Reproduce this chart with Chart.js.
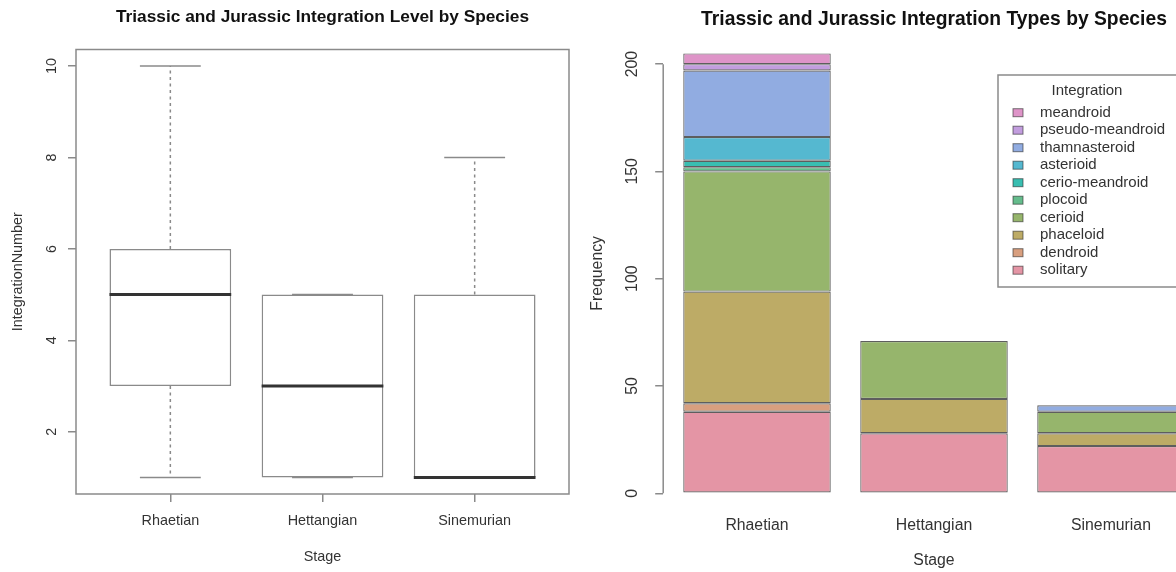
<!DOCTYPE html>
<html>
<head>
<meta charset="utf-8">
<title>Triassic and Jurassic Integration</title>
<script src="https://cdn.jsdelivr.net/npm/chart.js@4.4.1/dist/chart.umd.min.js"></script>
<style>
  html, body { margin: 0; padding: 0; background: #fff; overflow: hidden; width: 1176px; height: 572px; }
  #levelChart { position: absolute; left: 0; top: 0; }
  #typeChart { position: absolute; left: 588px; top: 0; }
</style>
</head>
<body>
<canvas id="levelChart" width="588" height="572"></canvas>
<canvas id="typeChart" width="620" height="572"></canvas>
<script>
// Stages (both charts)
const stages = ['Rhaetian', 'Hettangian', 'Sinemurian'];

// Box plot: integration number per stage
const boxMin = [1, 1, 1];
const boxQ1 = [3, 1, 1];
const boxMedian = [5, 3, 1];
const boxQ3 = [6, 5, 5];
const boxMax = [10, 5, 8];
const levelTicks = [2, 4, 6, 8, 10];

// Stacked bars: frequency of each integration type per stage
const solitary = [38, 28, 22];
const dendroid = [4, 0, 0];
const phaceloid = [52, 16, 6];
const cerioid = [56, 27, 10];
const plocoid = [2, 0, 0];
const cerioMeandroid = [3, 0, 0];
const asterioid = [11, 0, 0];
const thamnasteroid = [31, 0, 3];
const pseudoMeandroid = [3, 0, 0];
const meandroid = [5, 0, 0];
const freqTicks = [0, 50, 100, 150, 200];

const typeNames = ['solitary', 'dendroid', 'phaceloid', 'cerioid', 'plocoid',
    'cerio-meandroid', 'asterioid', 'thamnasteroid', 'pseudo-meandroid', 'meandroid'];
const typeCounts = [solitary, dendroid, phaceloid, cerioid, plocoid,
    cerioMeandroid, asterioid, thamnasteroid, pseudoMeandroid, meandroid];
const typeColors = ['#E495A5', '#D89F7F', '#BDAB66', '#96B56C', '#65BC8C',
    '#39BEB1', '#55B8D0', '#91ACE1', '#C29DDE', '#DE94C8'];

const FONT = '"Liberation Sans", Arial, Helvetica, sans-serif';
Chart.defaults.font.family = FONT;
Chart.defaults.color = '#333';
Chart.defaults.animation = false;

function line(ctx, x1, y1, x2, y2) {
    ctx.beginPath();
    ctx.moveTo(x1, y1);
    ctx.lineTo(x2, y2);
    ctx.stroke();
}

// Title centred over the plot region, like R's main=
const titlePlugin = {
    id: 'rTitle',
    afterDraw(chart, args, opts) {
        const { ctx, chartArea } = chart;
        ctx.save();
        ctx.font = `bold ${opts.size}px ${FONT}`;
        ctx.fillStyle = '#111';
        ctx.textAlign = 'center';
        ctx.textBaseline = 'middle';
        ctx.fillText(opts.text, (chartArea.left + chartArea.right) / 2, opts.y);
        ctx.restore();
    }
};

// Whiskers, staples, medians and the frame of the box plot
const boxPlugin = {
    id: 'boxParts',
    afterDatasetsDraw(chart) {
        const { ctx, chartArea: a, scales: { x, y } } = chart;
        const unit = x.getPixelForValue(2) - x.getPixelForValue(1);
        ctx.save();
        stages.forEach((s, i) => {
            const cx = x.getPixelForValue(i + 1);
            const yMin = y.getPixelForValue(boxMin[i]);
            const yMax = y.getPixelForValue(boxMax[i]);
            ctx.strokeStyle = '#8a8a8a';
            ctx.lineWidth = 1.5;
            ctx.setLineDash([3, 3.5]);
            if (boxMax[i] > boxQ3[i]) line(ctx, cx, y.getPixelForValue(boxQ3[i]), cx, yMax);
            if (boxMin[i] < boxQ1[i]) line(ctx, cx, y.getPixelForValue(boxQ1[i]), cx, yMin);
            ctx.setLineDash([]);
            line(ctx, cx - unit * 0.2, yMax, cx + unit * 0.2, yMax);
            line(ctx, cx - unit * 0.2, yMin, cx + unit * 0.2, yMin);
            ctx.strokeStyle = '#333';
            ctx.lineWidth = 3;
            const ym = y.getPixelForValue(boxMedian[i]);
            line(ctx, cx - unit * 0.4, ym, cx + unit * 0.4, ym);
        });
        ctx.strokeStyle = '#8a8a8a';
        ctx.lineWidth = 1.5;
        ctx.strokeRect(a.left, a.top, a.right - a.left, a.bottom - a.top);
        ctx.restore();
    }
};

// R style y axis line (only across the tick range) and the legend box
const typeExtras = {
    id: 'typeExtras',
    afterDraw(chart, args, opts) {
        const { ctx, chartArea: a, scales: { y } } = chart;
        ctx.save();
        ctx.strokeStyle = '#8a8a8a';
        ctx.lineWidth = 1.5;
        line(ctx, a.left, y.getPixelForValue(freqTicks[0]), a.left, y.getPixelForValue(freqTicks[freqTicks.length - 1]));

        ctx.strokeRect(opts.left, opts.top, opts.width, opts.height);
        ctx.font = `${opts.size}px ${FONT}`;
        ctx.textBaseline = 'middle';
        ctx.fillStyle = '#333';
        ctx.textAlign = 'center';
        ctx.fillText('Integration', opts.titleX, opts.titleY);
        ctx.textAlign = 'left';
        const items = chart.data.datasets.slice().reverse();
        items.forEach((d, i) => {
            const yy = opts.firstRow + i * opts.rowGap;
            ctx.fillStyle = d.backgroundColor;
            ctx.fillRect(opts.swatchX, yy - 4, 10, 8);
            ctx.strokeStyle = 'rgba(40,40,40,0.6)';
            ctx.lineWidth = 1;
            ctx.strokeRect(opts.swatchX, yy - 4, 10, 8);
            ctx.fillStyle = '#333';
            ctx.fillText(d.label, opts.textX, yy);
        });
        ctx.restore();
    }
};

// ---- Left: box plot ----
new Chart(document.getElementById('levelChart'), {
    type: 'bar',
    data: {
        datasets: [{
            data: stages.map((s, i) => ({ x: i + 1, y: [boxQ1[i], boxQ3[i]] })),
            backgroundColor: '#fff',
            borderColor: '#8a8a8a',
            borderWidth: 1.5,
            borderSkipped: false,
            categoryPercentage: 1,
            barPercentage: 0.8
        }]
    },
    options: {
        responsive: false,
        layout: { padding: { left: 0, right: 19, top: 49.5, bottom: 0 } },
        plugins: {
            legend: { display: false },
            tooltip: { enabled: false },
            rTitle: { text: 'Triassic and Jurassic Integration Level by Species', size: 17.3, y: 17 }
        },
        scales: {
            x: {
                type: 'linear', min: 0.38, max: 3.62, offset: false,
                afterBuildTicks: s => { s.ticks = stages.map((st, i) => ({ value: i + 1 })); },
                afterFit: s => { s.height = 78; },
                ticks: { autoSkip: false, maxRotation: 0, padding: 10, font: { size: 14.4 }, callback: (v, i) => stages[i] },
                grid: { offset: false, drawOnChartArea: false, drawTicks: true, tickLength: 8, color: '#8a8a8a', lineWidth: 1.5 },
                border: { display: false },
                title: { display: true, text: 'Stage', font: { size: 14.4 }, padding: { top: 0, bottom: 6 } }
            },
            y: {
                min: 0.64, max: 10.36,
                afterBuildTicks: s => { s.ticks = levelTicks.map(v => ({ value: v })); },
                afterFit: s => { s.width = 76; },
                ticks: { autoSkip: false, minRotation: 90, maxRotation: 90, crossAlign: 'center', padding: 8, font: { size: 14.4 } },
                grid: { drawOnChartArea: false, drawTicks: true, tickLength: 8, color: '#8a8a8a', lineWidth: 1.5 },
                border: { display: false },
                title: { display: true, text: 'IntegrationNumber', font: { size: 14.4 }, padding: { top: 9, bottom: 0 } }
            }
        }
    },
    plugins: [titlePlugin, boxPlugin]
});

// ---- Right: stacked bar chart ----
new Chart(document.getElementById('typeChart'), {
    type: 'bar',
    data: {
        datasets: typeNames.map((name, k) => ({
            label: name,
            data: stages.map((s, i) => ({ x: 0.7 + 1.2 * i, y: typeCounts[k][i] })),
            backgroundColor: typeColors[k],
            borderColor: '#5e5e5e',
            borderWidth: 1.2,
            borderSkipped: false,
            categoryPercentage: 1,
            barPercentage: 1 / 1.2
        }))
    },
    options: {
        responsive: false,
        layout: { padding: { left: 0, right: 3.2, top: 35.8, bottom: 0 } },
        plugins: {
            legend: { display: false },
            tooltip: { enabled: false },
            rTitle: { text: 'Triassic and Jurassic Integration Types by Species', size: 19.3, y: 20 },
            typeExtras: {
                left: 410, top: 75, width: 200, height: 212, size: 15,
                titleX: 499, titleY: 91, firstRow: 112.7, rowGap: 17.5, swatchX: 425, textX: 452
            }
        },
        scales: {
            x: {
                type: 'linear', min: 0.064, max: 3.736, stacked: true, offset: false,
                afterBuildTicks: s => { s.ticks = stages.map((st, i) => ({ value: 0.7 + 1.2 * i })); },
                afterFit: s => { s.height = 61.1; },
                ticks: { autoSkip: false, maxRotation: 0, padding: 5, font: { size: 15.8 }, callback: (v, i) => stages[i] },
                grid: { offset: false, display: false, drawTicks: false },
                border: { display: false },
                title: { display: true, text: 'Stage', font: { size: 15.8 }, padding: { top: 0, bottom: 1.5 } }
            },
            y: {
                min: -8.2, max: 213.2, stacked: true,
                afterBuildTicks: s => { s.ticks = freqTicks.map(v => ({ value: v })); },
                afterFit: s => { s.width = 75.2; },
                ticks: { autoSkip: false, minRotation: 90, maxRotation: 90, crossAlign: 'center', padding: 9, font: { size: 15.8 } },
                grid: { drawOnChartArea: false, drawTicks: true, tickLength: 8, color: '#8a8a8a', lineWidth: 1.5 },
                border: { display: false },
                title: { display: true, text: 'Frequency', font: { size: 15.8 }, padding: { top: 0.5, bottom: 0 } }
            }
        }
    },
    plugins: [titlePlugin, typeExtras]
});
</script>
</body>
</html>
